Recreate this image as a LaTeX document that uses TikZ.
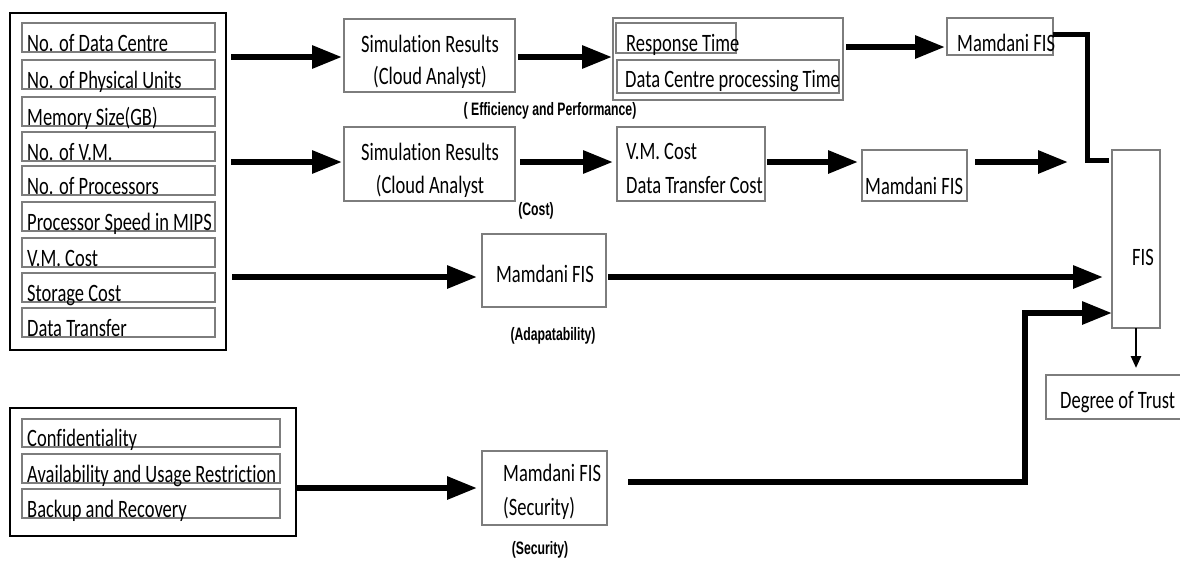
\documentclass[tikz,border=0pt]{standalone}
\usepackage{fontspec}
\setmainfont[FakeStretch=0.74,Ligatures=NoCommon]{Carlito}
\newfontfamily\lblfont[FakeStretch=0.68]{Liberation Sans}
\usetikzlibrary{arrows.meta}
\definecolor{boxgray}{RGB}{125,125,125}
\begin{document}
\begin{tikzpicture}[x=1pt,y=-1pt,
  box/.style={draw=boxgray, line width=1.1pt, inner sep=0pt, outer sep=0pt, anchor=north west},
  frame/.style={draw=black, line width=2.6pt, inner sep=0pt, outer sep=0pt, anchor=north west},
  txt/.style={inner sep=0pt, font=\fontsize{25}{29}\selectfont},
  lbl/.style={inner sep=0pt, font=\lblfont\bfseries\fontsize{18}{21}\selectfont, anchor=base},
  arr/.style={line width=6pt, -{Triangle[length=30pt,width=22pt]}},
  conn/.style={line width=5pt, line join=miter},
  thinarr/.style={line width=2.5pt, -{Triangle[length=12pt,width=10pt]}}]
\useasboundingbox (0,0) rectangle (1180,560);
\clip (0,0) rectangle (1180,560);
\fill[white] (0,0) rectangle (1180,560);

% ---- left input box ----
\node[frame, minimum width=216pt, minimum height=337pt] (L) at (10,13) {};
\node[box, minimum width=193pt, minimum height=29pt] (r1) at (22,23) {};
\node[box, minimum width=193pt, minimum height=29pt] (r2) at (22,60) {};
\node[box, minimum width=193pt, minimum height=29pt] (r3) at (22,97) {};
\node[box, minimum width=193pt, minimum height=29pt] (r4) at (22,132) {};
\node[box, minimum width=193pt, minimum height=29pt] (r5) at (22,166) {};
\node[box, minimum width=193pt, minimum height=29pt] (r6) at (22,202) {};
\node[box, minimum width=193pt, minimum height=29pt] (r7) at (22,238) {};
\node[box, minimum width=193pt, minimum height=29pt] (r8) at (22,273) {};
\node[box, minimum width=193pt, minimum height=29pt] (r9) at (22,308) {};
\node[txt, anchor=base west] (t1) at (27,51) {No. of Data Centre};
\node[txt, anchor=base west] (t2) at (27,88) {No. of Physical Units};
\node[txt, anchor=base west] (t3) at (27,125) {Memory Size(GB)};
\node[txt, anchor=base west] (t4) at (27,160) {No. of V.M.};
\node[txt, anchor=base west] (t5) at (27,194) {No. of Processors};
\node[txt, anchor=base west] (t6) at (27,230) {Processor Speed in MIPS};
\node[txt, anchor=base west] (t7) at (27,266) {V.M. Cost};
\node[txt, anchor=base west] (t8) at (27,301) {Storage Cost};
\node[txt, anchor=base west] (t9) at (27,336) {Data Transfer};

% ---- bottom input box ----
\node[frame, minimum width=286pt, minimum height=128pt] (B) at (10,408) {};
\node[box, minimum width=258pt, minimum height=28pt] (b1) at (22,419) {};
\node[box, minimum width=258pt, minimum height=29pt] (b2) at (22,454) {};
\node[box, minimum width=258pt, minimum height=29pt] (b3) at (22,489) {};
\node[txt, anchor=base west] (u1) at (27,446) {Confidentiality};
\node[txt, anchor=base west] (u2) at (27,482) {Availability and Usage Restriction};
\node[txt, anchor=base west] (u3) at (27,517) {Backup and Recovery};

% ---- row 1 ----
\node[box, minimum width=171pt, minimum height=73pt] (S1) at (344,19) {};
\node[txt, anchor=base] (s1a) at (430,52) {Simulation Results};
\node[txt, anchor=base] (s1b) at (430,84) {(Cloud Analyst)};
\node[box, minimum width=230pt, minimum height=82pt] (R) at (613,18) {};
\node[box, minimum width=120pt, minimum height=30pt] (RT) at (616,23) {};
\node[box, minimum width=222pt, minimum height=33pt] (DC) at (617,60) {};
\node[txt, anchor=base west] (rt) at (626,51) {Response Time};
\node[txt, anchor=base west] (dc) at (625,87) {Data Centre processing Time};
\node[lbl] (eff) at (550,115) {( Efficiency and Performance)};
\node[box, minimum width=106pt, minimum height=37pt] (M1) at (947,18) {};
\node[txt, anchor=base west] (m1) at (957,51) {Mamdani FIS};

% ---- row 2 ----
\node[box, minimum width=171pt, minimum height=74pt] (S2) at (344,127) {};
\node[txt, anchor=base] (s2a) at (430,160) {Simulation Results};
\node[txt, anchor=base] (s2b) at (430,193) {(Cloud Analyst};
\node[lbl] (cost) at (536,215) {(Cost)};
\node[box, minimum width=148pt, minimum height=74pt] (V) at (617,127) {};
\node[txt, anchor=base west] (v1) at (626,159) {V.M. Cost};
\node[txt, anchor=base west] (v2) at (626,193) {Data Transfer Cost};
\node[box, minimum width=105pt, minimum height=51pt] (M2) at (862,150) {};
\node[txt, anchor=base west] (m2) at (865,194) {Mamdani FIS};

% ---- row 3 ----
\node[box, minimum width=124pt, minimum height=73pt] (M3) at (482,234) {};
\node[txt, anchor=base] (m3) at (545,282) {Mamdani FIS};
\node[lbl] (adapt) at (553,340) {(Adapatability)};

% ---- security ----
\node[box, minimum width=125pt, minimum height=74pt] (MS) at (482,451) {};
\node[txt, anchor=base west] (ms1) at (503,481) {Mamdani FIS};
\node[txt, anchor=base west] (ms2) at (503,515) {(Security)};
\node[lbl] (sec) at (540,554) {(Security)};

% ---- FIS and output ----
\node[box, minimum width=48pt, minimum height=178pt] (F) at (1112,150) {};
\node[txt, anchor=base] (fis) at (1143,265) {FIS};
\node[box, minimum width=140pt, minimum height=44pt] (D) at (1046,375) {};
\node[txt, anchor=base west] (dt) at (1060,408) {Degree of Trust};

% ---- helper coordinates ----
\coordinate (ya) at (0,57);
\coordinate (yb) at (0,162);
\coordinate (yc) at (0,277);
\coordinate (yd) at (0,488);
\coordinate (ye) at (0,47);
\coordinate (yf) at (0,34);
\coordinate (yg) at (0,482);
\coordinate (xf) at (1136,0);
\coordinate (c1) at (1068,162);
\coordinate (k1) at (1087,160);
\coordinate (k2) at (1025,313);

% ---- connectors ----
\draw[arr, shorten <=5pt, shorten >=2pt] (L.east |- ya) -- (S1.west |- ya);
\draw[arr, shorten <=3pt, shorten >=1pt] (S1.east |- ya) -- (R.west |- ya);
\draw[arr, shorten <=3pt, shorten >=2pt] (R.east |- ye) -- (M1.west |- ye);
\draw[arr, shorten <=5pt, shorten >=2pt] (L.east |- yb) -- (S2.west |- yb);
\draw[arr, shorten <=5pt, shorten >=4pt] (S2.east |- yb) -- (V.west |- yb);
\draw[arr, shorten <=2pt, shorten >=4pt] (V.east |- yb) -- (M2.west |- yb);
\draw[arr, shorten <=8pt] (M2.east |- yb) -- (c1);
\draw[arr, shorten <=6pt, shorten >=5pt] (L.east |- yc) -- (M3.west |- yc);
\draw[arr, shorten <=2pt, shorten >=9pt] (M3.east |- yc) -- (F.west |- yc);
\draw[conn, shorten >=3pt] (M1.east |- yf) -| (k1) -- (F.west |- k1);
\draw[arr, shorten >=5pt] (B.east |- yd) -- (MS.west |- yd);
\draw[arr, line join=miter, shorten <=21pt] (MS.east |- yg) -| (k2) -- (F.west |- k2);
\draw[thinarr, shorten >=7pt] (F.south -| xf) -- (D.north -| xf);
\end{tikzpicture}
\end{document}
